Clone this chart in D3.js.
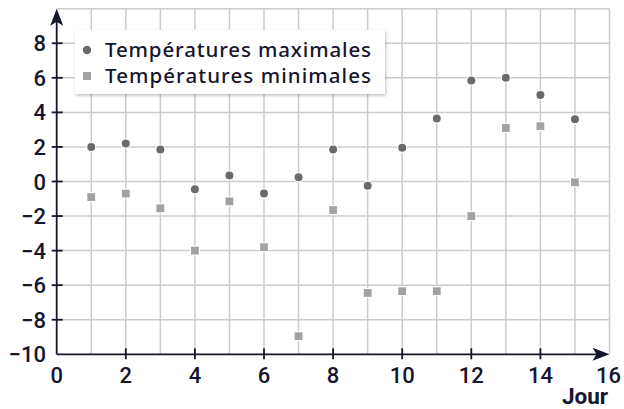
<!DOCTYPE html>
<html><head><meta charset="utf-8">
<script src="https://cdn.jsdelivr.net/npm/d3@7"></script>
<style>body{margin:0;background:#fff}svg{display:block}</style>
</head><body>
<svg id="c" width="624" height="409"></svg>
<script>
const days = [1,2,3,4,5,6,7,8,9,10,11,12,13,14,15];
const tMax = [2.0,2.2,1.85,-0.45,0.35,-0.7,0.25,1.85,-0.25,1.95,3.65,5.85,6.0,5.0,3.6];
const tMin = [-0.9,-0.7,-1.55,-4.0,-1.15,-3.8,-8.95,-1.65,-6.45,-6.35,-6.35,-2.0,3.1,3.2,-0.05];
const xTicks = [0,2,4,6,8,10,12,14,16];
const yTicks = [-10,-8,-6,-4,-2,0,2,4,6,8];
const seriesNames = ["Températures maximales","Températures minimales"];
const xTitle = "Jour";

const svg = d3.select("#c");
const x = d3.scaleLinear().domain([0,16]).range([56.7,609.5]);
const y = d3.scaleLinear().domain([-10,10]).range([354.3,8.7]);
const ink = "#15152e";
const gridC = "#cccccc";

// grid
const g = svg.append("g");
g.selectAll("line.v").data(d3.range(1,17)).join("line")
  .attr("x1",d=>x(d)).attr("x2",d=>x(d)).attr("y1",y(-10)).attr("y2",y(10))
  .attr("stroke",gridC).attr("stroke-width",1.5);
g.selectAll("line.h").data(d3.range(-8,11,2)).join("line")
  .attr("x1",x(0)).attr("x2",x(16)).attr("y1",d=>y(d)).attr("y2",d=>y(d))
  .attr("stroke",gridC).attr("stroke-width",1.5);

// axes
const ax = svg.append("g").attr("stroke",ink).attr("stroke-width",1.8);
ax.append("line").attr("x1",x(0)).attr("x2",x(16)-12).attr("y1",y(-10)).attr("y2",y(-10));
ax.append("line").attr("x1",x(0)).attr("x2",x(0)).attr("y1",y(-10)).attr("y2",y(10)+12);
svg.append("path").attr("fill",ink)
  .attr("d",`M${x(16)},${y(-10)} L${x(16)-17},${y(-10)-6.5} L${x(16)-13},${y(-10)} L${x(16)-17},${y(-10)+6.5}Z`);
svg.append("path").attr("fill",ink)
  .attr("d",`M${x(0)},${y(10)} L${x(0)-6.5},${y(10)+17} L${x(0)},${y(10)+13} L${x(0)+6.5},${y(10)+17}Z`);
// ticks
svg.append("g").selectAll("line").data(xTicks.filter(d=>d>0&&d<16)).join("line")
  .attr("x1",d=>x(d)).attr("x2",d=>x(d)).attr("y1",y(-10)-6).attr("y2",y(-10)+5)
  .attr("stroke",ink).attr("stroke-width",1.8);
svg.append("g").selectAll("line").data(yTicks.filter(d=>d>-10)).join("line")
  .attr("x1",x(0)-5).attr("x2",x(0)+6).attr("y1",d=>y(d)).attr("y2",d=>y(d))
  .attr("stroke",ink).attr("stroke-width",1.8);
// tick labels
const tf = "Roboto, sans-serif";
svg.append("g").selectAll("text").data(xTicks).join("text")
  .attr("x",d=>x(d)+(d===16?-1:0)).attr("y",383).attr("text-anchor","middle")
  .attr("font-family",tf).attr("font-weight",500).attr("font-size",22).attr("fill",ink)
  .text(d=>d);
svg.append("g").selectAll("text").data(yTicks).join("text")
  .attr("x",46).attr("y",d=>y(d)+8).attr("text-anchor","end")
  .attr("font-family",tf).attr("font-weight",500).attr("font-size",22).attr("fill",ink)
  .text(d=>d<0?"\u2212"+Math.abs(d):d);
svg.append("text").attr("x",608).attr("y",404).attr("text-anchor","end")
  .attr("font-family",tf).attr("font-weight",700).attr("font-size",22.5).attr("fill",ink).text(xTitle);

// marks
svg.append("g").selectAll("rect").data(days).join("rect")
  .attr("x",(d,i)=>x(d)-4.5).attr("y",(d,i)=>y(tMin[i])-4.5).attr("width",9).attr("height",9)
  .attr("fill","#a2a2a2").attr("stroke","#fff").attr("stroke-width",1.2);
svg.append("g").selectAll("circle").data(days).join("circle")
  .attr("cx",d=>x(d)).attr("cy",(d,i)=>y(tMax[i])).attr("r",4.6)
  .attr("fill","#6a6a6a").attr("stroke","#fff").attr("stroke-width",1.2);

// legend
const defs = svg.append("defs");
const f = defs.append("filter").attr("id","sh").attr("x","-10%").attr("y","-20%").attr("width","120%").attr("height","150%");
f.append("feDropShadow").attr("dx",1).attr("dy",1.5).attr("stdDeviation",1.5).attr("flood-color","#000").attr("flood-opacity",0.25);
const lg = svg.append("g");
lg.append("rect").attr("x",75).attr("y",30).attr("width",310).attr("height",64).attr("fill","#fff").attr("filter","url(#sh)");
lg.append("circle").attr("cx",87).attr("cy",50).attr("r",4.2).attr("fill","#6a6a6a");
lg.append("rect").attr("x",83).attr("y",72).attr("width",8).attr("height",8).attr("fill","#a2a2a2");
lg.selectAll("text").data(seriesNames).join("text")
  .attr("x",105).attr("y",(d,i)=>57+i*26)
  .attr("font-family","'Noto Sans', sans-serif").attr("font-weight",500).attr("font-size",20.5).attr("fill",ink)
  .attr("textLength",266).attr("lengthAdjust","spacing")
  .text(d=>d);
</script>
</body></html>
